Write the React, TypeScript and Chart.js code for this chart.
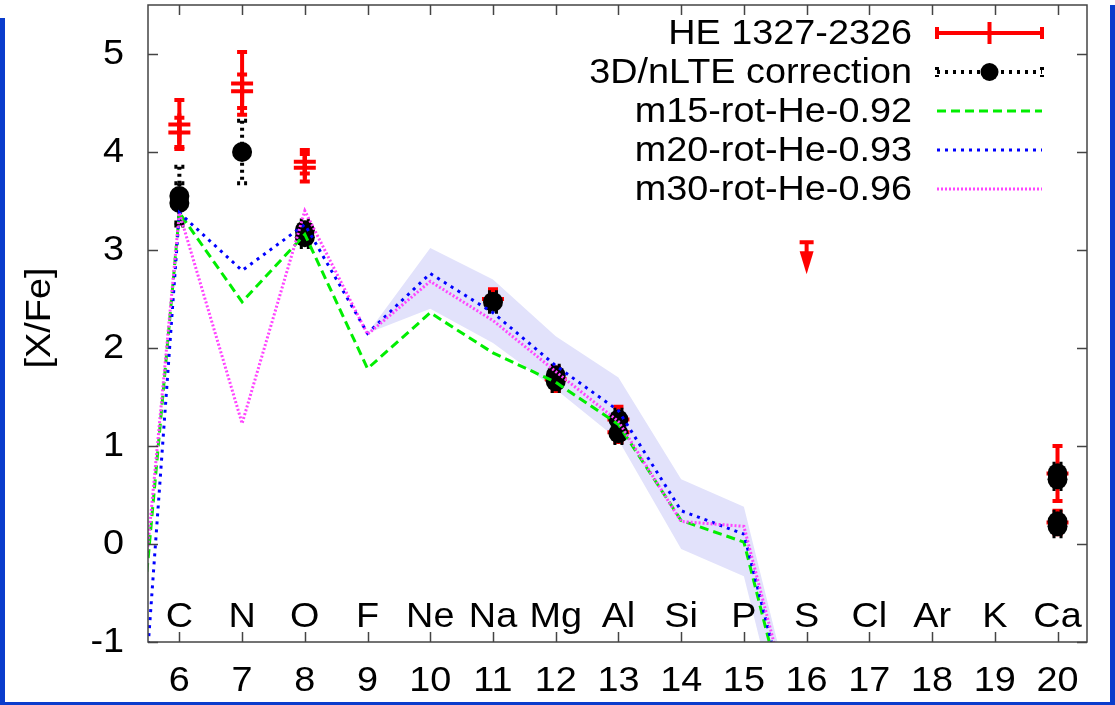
import { useEffect, useRef } from "react";
import { Chart, registerables } from "chart.js";

Chart.register(...registerables);

// ---- axis ticks / labels ----
const xTickValues = [6, 7, 8, 9, 10, 11, 12, 13, 14, 15, 16, 17, 18, 19, 20];
const elementSymbols = ["C", "N", "O", "F", "Ne", "Na", "Mg", "Al", "Si", "P", "S", "Cl", "Ar", "K", "Ca"];
const yTickValues = [-1, 0, 1, 2, 3, 4, 5];
const yTitle = "[X/Fe]";

// ---- HE 1327-2326 observed abundances ----
const obsZ = [6, 6, 7, 7, 8, 8, 11, 12, 13, 13, 20, 20];
const obsVal = [4.28, 4.2, 4.7, 4.62, 3.9, 3.84, 2.5, 1.68, 1.27, 1.14, 0.72, 0.22];
const obsErr = [0.25, 0.15, 0.32, 0.17, 0.12, 0.14, 0.1, 0.12, 0.13, 0.1, 0.28, 0.12];
// upper limit (S)
const limitZ = [16];
const limitVal = [3.1];

// ---- 3D/nLTE corrected ----
const corrZ = [6, 6, 7, 8, 8, 11, 12, 12, 13, 13, 20, 20, 20, 20];
const corrVal = [3.55, 3.48, 4.0, 3.2, 3.13, 2.47, 1.72, 1.66, 1.27, 1.13, 0.72, 0.66, 0.23, 0.18];
const corrErr = [0.3, 0.2, 0.32, 0.1, 0.1, 0.1, 0.1, 0.1, 0.1, 0.1, 0.1, 0.1, 0.1, 0.1];

// ---- models ----
const modelZ = [5, 6, 7, 8, 9, 10, 11, 12, 13, 14, 15, 16];
const m15 = [-3.7, 3.38, 2.47, 3.16, 1.79, 2.36, 1.95, 1.65, 1.22, 0.24, 0.02, -2.5];
const m20 = [-5.5, 3.38, 2.79, 3.26, 2.15, 2.76, 2.36, 1.82, 1.36, 0.34, 0.1, -2.4];
const m30 = [-3.4, 3.38, 1.23, 3.4, 2.14, 2.68, 2.28, 1.76, 1.25, 0.23, 0.18, -2.3];

// ---- uncertainty band around m20 ----
const bandZ = [9, 10, 11, 12, 13, 14, 15, 16];
const bandHi = [2.15, 3.02, 2.7, 2.12, 1.7, 0.66, 0.38, -2.2];
const bandLo = [2.15, 2.4, 2.05, 1.58, 1.06, -0.05, -0.33, -2.9];

const legendLabels = ["HE 1327-2326", "3D/nLTE correction", "m15-rot-He-0.92", "m20-rot-He-0.93", "m30-rot-He-0.96"];

const FONT = '35px "Liberation Sans", Arial, Helvetica, sans-serif';
const SX = 1.08;

const pts = (xs: number[], ys: number[]) => xs.map((x, i) => ({ x, y: ys[i] }));

function text(ctx: CanvasRenderingContext2D, s: string, x: number, y: number, align: CanvasTextAlign) {
  ctx.save();
  ctx.translate(x, y);
  ctx.scale(SX, 1);
  ctx.textAlign = align;
  ctx.textBaseline = "middle";
  ctx.fillText(s, 0, 0);
  ctx.restore();
}

const decorPlugin = {
  id: "decor",
  beforeDatasetDraw(chart: any, args: any) {
    const ds = chart.data.datasets[args.index];
    if (!ds.errors) return;
    const ctx: CanvasRenderingContext2D = chart.ctx;
    const xs = chart.scales.x;
    const ys = chart.scales.y;
    const a = chart.chartArea;
    ctx.save();
    ctx.beginPath();
    ctx.rect(a.left, a.top, a.right - a.left, a.bottom - a.top);
    ctx.clip();
    ctx.strokeStyle = ds.errColor;
    ctx.lineWidth = ds.errWidth;
    ctx.setLineDash(ds.errDash || []);
    ds.data.forEach((p: any, i: number) => {
      const e = ds.errors[i];
      const px = xs.getPixelForValue(p.x);
      const y1 = ys.getPixelForValue(p.y + e);
      const y2 = ys.getPixelForValue(p.y - e);
      ctx.beginPath();
      ctx.moveTo(px, y1);
      ctx.lineTo(px, y2);
      ctx.moveTo(px - 5, y1);
      ctx.lineTo(px + 5, y1);
      ctx.moveTo(px - 5, y2);
      ctx.lineTo(px + 5, y2);
      ctx.stroke();
    });
    ctx.restore();
  },
  afterDatasetDraw(chart: any, args: any) {
    const ds = chart.data.datasets[args.index];
    if (!ds.limits) return;
    const ctx: CanvasRenderingContext2D = chart.ctx;
    const xs = chart.scales.x;
    const ys = chart.scales.y;
    ctx.save();
    ctx.strokeStyle = "#ff0000";
    ctx.fillStyle = "#ff0000";
    ds.limits.forEach((l: any) => {
      const px = xs.getPixelForValue(l.x);
      const top = ys.getPixelForValue(l.y);
      const tip = top + 34;
      ctx.lineWidth = 4;
      ctx.beginPath();
      ctx.moveTo(px - 7, top + 2);
      ctx.lineTo(px + 7, top + 2);
      ctx.moveTo(px, top);
      ctx.lineTo(px, tip - 8);
      ctx.stroke();
      ctx.beginPath();
      ctx.moveTo(px - 7, top + 11);
      ctx.lineTo(px + 7, top + 11);
      ctx.lineTo(px, tip);
      ctx.closePath();
      ctx.fill();
    });
    ctx.restore();
  },
  afterDatasetsDraw(chart: any) {
    const ctx: CanvasRenderingContext2D = chart.ctx;
    const xs = chart.scales.x;
    const ys = chart.scales.y;
    const a = chart.chartArea;
    ctx.save();
    ctx.strokeStyle = "#444";
    ctx.lineWidth = 1.5;
    ctx.setLineDash([]);
    ctx.strokeRect(a.left, a.top, a.right - a.left, a.bottom - a.top);
    ctx.beginPath();
    xTickValues.forEach((v) => {
      const px = Math.round(xs.getPixelForValue(v)) + 0.5;
      ctx.moveTo(px, a.bottom);
      ctx.lineTo(px, a.bottom - 10);
      ctx.moveTo(px, a.top);
      ctx.lineTo(px, a.top + 10);
    });
    yTickValues.forEach((v) => {
      const py = Math.round(ys.getPixelForValue(v)) + 0.5;
      ctx.moveTo(a.left, py);
      ctx.lineTo(a.left + 10, py);
      ctx.moveTo(a.right, py);
      ctx.lineTo(a.right - 10, py);
    });
    ctx.stroke();

    ctx.fillStyle = "#000";
    ctx.font = FONT;
    xTickValues.forEach((v, i) => {
      const px = xs.getPixelForValue(v);
      text(ctx, String(v), px, 681, "center");
      text(ctx, elementSymbols[i], px, 617, "center");
    });
    yTickValues.forEach((v) => {
      text(ctx, String(v), 124, ys.getPixelForValue(v), "right");
    });
    ctx.save();
    ctx.translate(40, 318);
    ctx.rotate(-Math.PI / 2);
    ctx.scale(SX, 1);
    ctx.textAlign = "center";
    ctx.textBaseline = "middle";
    ctx.fillText(yTitle, 0, 0);
    ctx.restore();

    // legend
    const rowY = (i: number) => 33 + 39 * i;
    const x0 = 937;
    const x1 = 1042;
    const xm = (x0 + x1) / 2;
    legendLabels.forEach((lab, i) => text(ctx, lab, 912, rowY(i) + 1, "right"));
    // row 0: red error bar sample
    let y = rowY(0);
    ctx.strokeStyle = "#ff0000";
    ctx.lineWidth = 4;
    ctx.beginPath();
    ctx.moveTo(x0, y);
    ctx.lineTo(x1, y);
    ctx.moveTo(x0, y - 6);
    ctx.lineTo(x0, y + 6);
    ctx.moveTo(x1, y - 6);
    ctx.lineTo(x1, y + 6);
    ctx.moveTo(xm, y - 11);
    ctx.lineTo(xm, y + 11);
    ctx.stroke();
    // row 1: black dotted with circle
    y = rowY(1);
    ctx.strokeStyle = "#000";
    ctx.lineWidth = 4;
    ctx.setLineDash([3, 5]);
    ctx.beginPath();
    ctx.moveTo(x0, y);
    ctx.lineTo(x1, y);
    ctx.moveTo(x1, y - 5);
    ctx.lineTo(x1, y + 5);
    ctx.moveTo(x0, y - 5);
    ctx.lineTo(x0, y + 5);
    ctx.stroke();
    ctx.setLineDash([]);
    ctx.fillStyle = "#000";
    ctx.beginPath();
    ctx.arc(xm, y, 9, 0, Math.PI * 2);
    ctx.fill();
    // rows 2-4: model lines
    const styles = [
      { c: "#00ee00", d: [9, 5] },
      { c: "#0000ff", d: [3, 5] },
      { c: "#ff44ff", d: [2, 2] },
    ];
    styles.forEach((s, k) => {
      const yy = rowY(k + 2);
      ctx.strokeStyle = s.c;
      ctx.lineWidth = 3;
      ctx.setLineDash(s.d);
      ctx.beginPath();
      ctx.moveTo(x0, yy);
      ctx.lineTo(x1, yy);
      ctx.stroke();
    });
    ctx.restore();
  },
};

export default function App() {
  const ref = useRef<HTMLCanvasElement>(null);
  useEffect(() => {
    if (!ref.current) return;
    const chart = new Chart(ref.current, {
      type: "line",
      data: {
        datasets: [
          {
            label: "band-hi",
            data: pts(bandZ, bandHi),
            borderWidth: 0,
            pointRadius: 0,
            fill: false,
            order: 10,
          },
          {
            label: "band-lo",
            data: pts(bandZ, bandLo),
            borderWidth: 0,
            pointRadius: 0,
            fill: "-1",
            backgroundColor: "#e2e2fb",
            order: 9,
          },
          {
            label: legendLabels[0],
            data: pts(obsZ, obsVal),
            showLine: false,
            pointStyle: "cross",
            pointRadius: 11,
            pointBorderWidth: 4,
            borderColor: "#ff0000",
            backgroundColor: "#ff0000",
            errors: obsErr,
            errColor: "#ff0000",
            errWidth: 4,
            limits: pts(limitZ, limitVal),
            order: 8,
          } as any,
          {
            label: legendLabels[1],
            data: pts(corrZ, corrVal),
            showLine: false,
            pointStyle: "circle",
            pointRadius: 10,
            pointBorderWidth: 0,
            borderColor: "#000",
            backgroundColor: "#000",
            errors: corrErr,
            errColor: "#000",
            errWidth: 4,
            errDash: [3, 4],
            order: 7,
          } as any,
          {
            label: legendLabels[2],
            data: pts(modelZ, m15),
            borderColor: "#00ee00",
            borderWidth: 3,
            borderDash: [9, 5],
            pointRadius: 0,
            fill: false,
            order: 3,
          },
          {
            label: legendLabels[3],
            data: pts(modelZ, m20),
            borderColor: "#0000ff",
            borderWidth: 3,
            borderDash: [3, 5],
            pointRadius: 0,
            fill: false,
            order: 2,
          },
          {
            label: legendLabels[4],
            data: pts(modelZ, m30),
            borderColor: "#ff44ff",
            borderWidth: 3,
            borderDash: [2, 2],
            pointRadius: 0,
            fill: false,
            order: 1,
          },
        ],
      },
      options: {
        responsive: false,
        animation: false,
        layout: { autoPadding: false, padding: { left: 148, top: 5, right: 28, bottom: 63 } },
        elements: { line: { tension: 0 } },
        scales: {
          x: { type: "linear", min: 5.5, max: 20.47, display: false },
          y: { type: "linear", min: -1, max: 5.5, display: false },
        },
        plugins: { legend: { display: false }, tooltip: { enabled: false } },
      },
      plugins: [decorPlugin],
    });
    return () => chart.destroy();
  }, []);

  const blue = "#0a3ccc";
  return (
    <div style={{ position: "fixed", left: 0, top: 0, width: 1115, height: 705, background: "#fff", overflow: "hidden" }}>
      <canvas ref={ref} width={1115} height={705} style={{ position: "absolute", left: 0, top: 0, width: 1115, height: 705 }} />
      <div style={{ position: "absolute", left: 0, top: 18, width: 5, height: 687, background: blue }} />
      <div style={{ position: "absolute", left: 1110, top: 5, width: 5, height: 700, background: blue }} />
      <div style={{ position: "absolute", left: 0, top: 702, width: 1115, height: 3, background: blue }} />
    </div>
  );
}
